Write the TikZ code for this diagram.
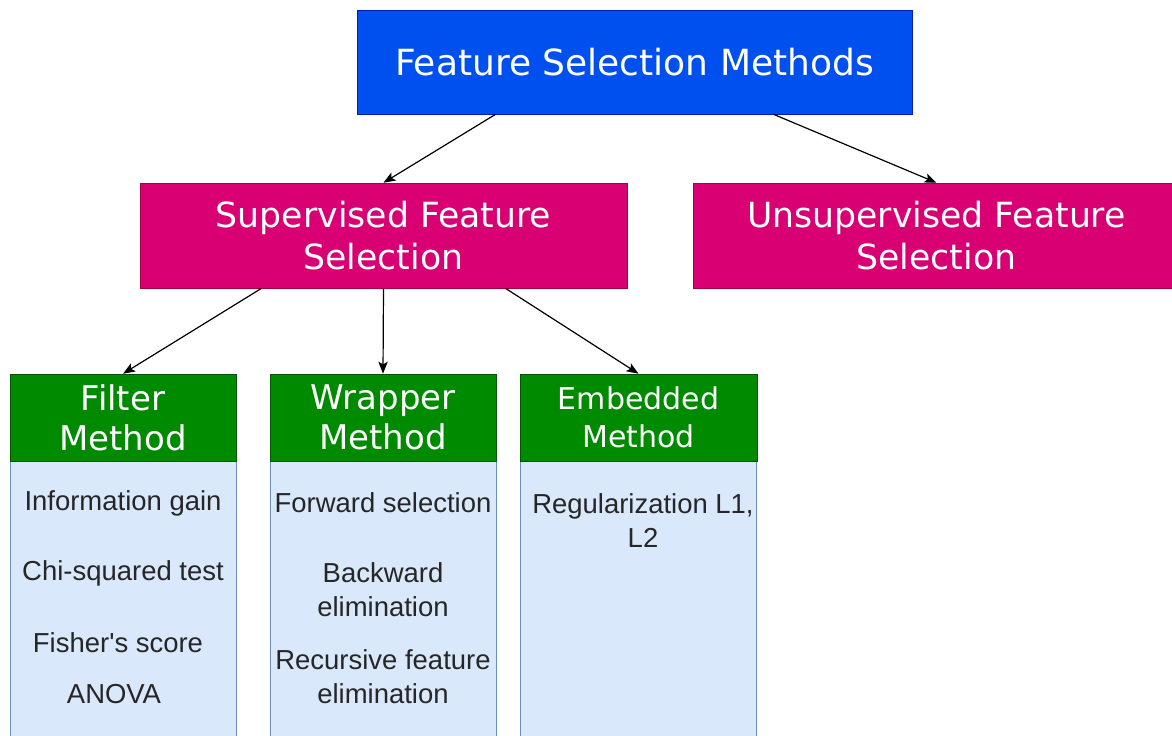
\documentclass[tikz,border=0pt]{standalone}
\usepackage{fontspec}
\setmainfont{DejaVu Sans}
\newfontfamily\itemfont{Liberation Sans}
\usepackage{xcolor}
\usepackage{tikz}
\usetikzlibrary{arrows.meta, positioning, calc}
\pgfdeclarelayer{background}
\pgfsetlayers{background,main}
\definecolor{topblue}{HTML}{0050EF}
\definecolor{topline}{HTML}{001DBC}
\definecolor{groupred}{HTML}{D80073}
\definecolor{groupline}{HTML}{A50040}
\definecolor{methgreen}{HTML}{008A00}
\definecolor{methline}{HTML}{005700}
\definecolor{bodyblue}{HTML}{DAE8FC}
\definecolor{bodyline}{HTML}{6C8EBF}
\tikzset{
	head_top/.style={rectangle, draw=topline, fill=topblue, text=white, minimum width=416.25pt, minimum height=78pt, inner sep=0pt, font=\fontsize{27}{32}\selectfont},
	head_group/.style={rectangle, draw=groupline, fill=groupred, text=white, minimum width=365.25pt, minimum height=78.75pt, inner sep=0pt, align=center, font=\fontsize{26}{32}\selectfont},
	head_method/.style={rectangle, draw=methline, fill=methgreen, text=white, minimum width=169.5pt, minimum height=65.25pt, inner sep=0pt, align=center, font=\fontsize{25.5}{30}\selectfont},
	method_body/.style={rectangle, draw=bodyline, fill=bodyblue, minimum width=169.5pt, minimum height=216.75pt, inner sep=0pt},
	item/.style={inner sep=0pt, align=center, text=black!85, font=\itemfont\fontsize{20.6}{25.5}\selectfont},
	tree_arrow/.style={-{Stealth[length=9pt, width=7pt, inset=2pt]}, line width=0.9pt}
}
\begin{document}
\begin{tikzpicture}[x=0.75pt, y=-0.75pt]
	\useasboundingbox (0,0) rectangle (1172,736);
	\clip (0,0) rectangle (1172,736);
	% top levels
	\node[head_top] (top) at (634.5,62) {Feature Selection Methods};
	\node[head_group] (sup) at (383.5,235.5) {Supervised Feature\\Selection};
	\node[head_group] (unsup) at (936.5,235.5) {Unsupervised Feature\\Selection};
	% methods
	\node[head_method] (filter) at (123,417.5) {Filter\\Method};
	\node[head_method] (wrapper) at (383,417.5) {Wrapper\\Method};
	\node[head_method, minimum width=177.75pt, font=\fontsize{22.5}{28.5}\selectfont] (embedded) at (638.5,417.5) {Embedded\\Method};
	\begin{pgfonlayer}{background}
		\fill[white] (0,0) rectangle (1172,736);
		\node[method_body, below=0pt of filter] (filterbody) {};
		\node[method_body, below=0pt of wrapper] (wrapperbody) {};
		\node[method_body, minimum width=177pt, below=0pt of embedded] (embeddedbody) {};
	\end{pgfonlayer}
	% items
	\node[item] (ig) at (123,503) {Information gain};
	\node[item] (chi) at (123,573) {Chi-squared test};
	\node[item] (fisher) at (118,643) {Fisher's score};
	\node[item] (anova) at (114,694) {ANOVA};
	\node[item] (fwd) at (383,503) {Forward selection};
	\node[item] (bwd) at (383,590) {Backward\\elimination};
	\node[item] (rfe) at (383,677) {Recursive feature\\elimination};
	\node[item] (reg) at (643,520.5) {Regularization L1,\\L2};
	% connectors
	\draw[tree_arrow] ($(top.south west)!0.25!(top.south east)$) -- (sup.north);
	\draw[tree_arrow] ($(top.south west)!0.75!(top.south east)$) -- (unsup.north);
	\draw[tree_arrow] ($(sup.south west)!0.25!(sup.south east)$) -- (filter.north);
	\draw[tree_arrow] (sup.south) -- (wrapper.north);
	\draw[tree_arrow] ($(sup.south west)!0.75!(sup.south east)$) -- (embedded.north);
\end{tikzpicture}
\end{document}
